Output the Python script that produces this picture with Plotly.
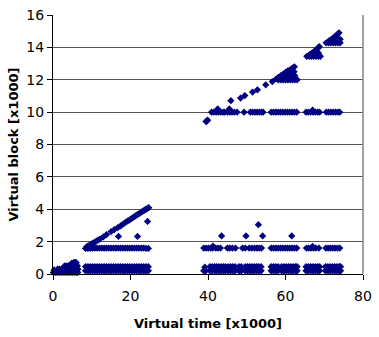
import plotly.graph_objects as go

# ---- data (x: virtual time [x1000], y: virtual block [x1000]) ----
ramp_x = [0.1, 0.6, 1.1, 1.6, 2.1, 2.6, 3.1, 3.6, 4.1, 4.6, 5.1, 5.6, 6.1, 6.4,
          0.3, 1.2, 1.7, 2.2, 2.7, 3.2, 3.7, 4.2, 4.7, 5.2, 5.7, 6.2, 6.4,
          3.0, 3.5, 4.0, 4.5, 5.0, 5.5, 6.0, 6.3,
          4.8, 5.3, 5.7, 6.0]
ramp_y = [0.1, 0.1, 0.1, 0.1, 0.1, 0.1, 0.1, 0.1, 0.1, 0.1, 0.1, 0.1, 0.1, 0.1,
          0.25, 0.3, 0.3, 0.3, 0.3, 0.3, 0.3, 0.3, 0.3, 0.3, 0.3, 0.3, 0.3,
          0.5, 0.5, 0.5, 0.5, 0.5, 0.5, 0.5, 0.5,
          0.66, 0.7, 0.72, 0.7]

low_left_x = [8.4, 9.0, 9.6, 10.2, 10.8, 11.4, 12.0, 12.6, 13.2, 13.8, 14.4, 15.0, 15.6, 16.2,
              16.8, 17.4, 18.0, 18.6, 19.2, 19.8, 20.4, 21.0, 21.6, 22.2, 22.8, 23.4, 24.0, 24.6,
              8.4, 9.0, 9.6, 10.2, 10.8, 11.4, 12.0, 12.6, 13.2, 13.8, 14.4, 15.0, 15.6, 16.2,
              16.8, 17.4, 18.0, 18.6, 19.2, 19.8, 20.4, 21.0, 21.6, 22.2, 22.8, 23.4, 24.0, 24.6]
low_left_y = [0.2, 0.2, 0.2, 0.2, 0.2, 0.2, 0.2, 0.2, 0.2, 0.2, 0.2, 0.2, 0.2, 0.2,
              0.2, 0.2, 0.2, 0.2, 0.2, 0.2, 0.2, 0.2, 0.2, 0.2, 0.2, 0.2, 0.2, 0.2,
              0.45, 0.45, 0.45, 0.45, 0.45, 0.45, 0.45, 0.45, 0.45, 0.45, 0.45, 0.45, 0.45, 0.45,
              0.45, 0.45, 0.45, 0.45, 0.45, 0.45, 0.45, 0.45, 0.45, 0.45, 0.45, 0.45, 0.45, 0.45]

mid_left_x = [8.4, 9.0, 9.6, 10.2, 10.8, 11.4, 12.0, 12.6, 13.2, 13.8, 14.4, 15.0, 15.6, 16.2,
              16.8, 17.4, 18.0, 18.6, 19.2, 19.8, 20.4, 21.0, 21.6, 22.2, 22.8, 23.4, 24.0, 24.6]
mid_left_y = [1.58, 1.58, 1.58, 1.6, 1.6, 1.6, 1.6, 1.6, 1.6, 1.6, 1.6, 1.6, 1.6, 1.6,
              1.6, 1.6, 1.6, 1.6, 1.6, 1.6, 1.6, 1.6, 1.6, 1.6, 1.6, 1.6, 1.58, 1.58]

diag_left_x = [8.7, 9.1, 9.5, 9.9, 10.3, 10.7, 11.1, 11.6, 12.1, 13.0, 13.8, 15.0,
               15.8, 16.7, 17.5, 18.2, 18.8, 19.3, 19.8, 20.3, 20.8, 21.3, 21.8,
               22.3, 22.8, 23.2, 23.6, 24.0, 24.4, 24.7,
               16.9, 21.8, 24.4]
diag_left_y = [1.68, 1.73, 1.78, 1.84, 1.9, 1.96, 2.02, 2.09, 2.16, 2.3, 2.43, 2.62,
               2.74, 2.86, 2.98, 3.1, 3.2, 3.28, 3.35, 3.43, 3.51, 3.59, 3.67,
               3.75, 3.82, 3.88, 3.95, 4.0, 4.06, 4.1,
               2.32, 2.32, 3.25]

low_right_x = [38.9, 39.4, 39.2,
               40.5, 41.1, 41.7, 42.2, 42.8, 43.4, 44.0, 44.5, 45.2, 45.8, 46.4, 47.0,
               48.0, 48.6, 49.6, 50.2, 50.8, 51.3, 51.9, 52.5, 53.1, 53.7,
               56.3, 56.9, 57.5, 58.1, 59.0, 59.6, 60.2, 60.8, 61.4, 62.0, 62.6, 63.0,
               65.3, 65.9, 66.5, 67.1, 67.7, 68.3, 68.8,
               70.3, 70.9, 71.5, 72.1, 72.7, 73.3, 73.9, 74.2,
               40.5, 41.1, 41.7, 42.2, 42.8, 43.4, 44.0, 44.5, 45.2, 45.8, 46.4, 47.0,
               48.0, 48.6, 49.6, 50.2, 50.8, 51.3, 51.9, 52.5, 53.1, 53.7,
               56.3, 56.9, 57.5, 58.1, 59.0, 59.6, 60.2, 60.8, 61.4, 62.0, 62.6, 63.0,
               65.3, 65.9, 66.5, 67.1, 67.7, 68.3, 68.8,
               70.3, 70.9, 71.5, 72.1, 72.7, 73.3, 73.9, 74.2]
low_right_y = [0.2, 0.2, 0.42,
               0.2, 0.2, 0.2, 0.2, 0.2, 0.2, 0.2, 0.2, 0.2, 0.2, 0.2, 0.2,
               0.2, 0.2, 0.2, 0.2, 0.2, 0.2, 0.2, 0.2, 0.2, 0.2,
               0.2, 0.2, 0.2, 0.2, 0.2, 0.2, 0.2, 0.2, 0.2, 0.2, 0.2, 0.2,
               0.2, 0.2, 0.2, 0.2, 0.2, 0.2, 0.2,
               0.2, 0.2, 0.2, 0.2, 0.2, 0.2, 0.2, 0.2,
               0.45, 0.45, 0.45, 0.45, 0.45, 0.45, 0.45, 0.45, 0.45, 0.45, 0.45, 0.45,
               0.45, 0.45, 0.45, 0.45, 0.45, 0.45, 0.45, 0.45, 0.45, 0.45,
               0.45, 0.45, 0.45, 0.45, 0.45, 0.45, 0.45, 0.45, 0.45, 0.45, 0.45, 0.45,
               0.45, 0.45, 0.45, 0.45, 0.45, 0.45, 0.45,
               0.45, 0.45, 0.45, 0.45, 0.45, 0.45, 0.45, 0.45]

mid_right_x = [38.9, 39.5, 40.1, 40.7, 41.2, 42.0, 42.6, 43.2, 45.0, 45.6, 46.3, 47.1,
               48.9, 49.6, 50.6, 51.3, 52.0, 52.6, 53.2, 53.8,
               56.3, 56.9, 57.5, 58.1, 58.7, 59.3, 59.9, 60.5, 61.1, 61.7, 62.3, 62.9,
               65.4, 66.0, 66.6, 67.2, 67.8, 68.6,
               70.4, 71.0, 71.6, 72.2, 72.8, 73.4, 74.0,
               41.3, 67.0,
               43.5, 49.8, 54.1, 53.0, 61.6]
mid_right_y = [1.6, 1.6, 1.6, 1.6, 1.6, 1.6, 1.6, 1.6, 1.6, 1.6, 1.6, 1.6,
               1.6, 1.6, 1.6, 1.6, 1.6, 1.6, 1.6, 1.6,
               1.6, 1.6, 1.6, 1.6, 1.6, 1.6, 1.6, 1.6, 1.6, 1.6, 1.6, 1.6,
               1.6, 1.6, 1.6, 1.6, 1.6, 1.6,
               1.6, 1.6, 1.6, 1.6, 1.6, 1.6, 1.6,
               1.72, 1.7,
               2.35, 2.35, 2.35, 3.05, 2.35]

band10_x = [40.9, 41.5, 42.1, 42.7, 43.3, 43.9, 44.3, 45.0, 45.6, 46.2, 46.8, 47.5,
            49.3, 50.9, 51.5, 52.1, 52.7, 53.3, 53.9, 54.2,
            56.3, 56.9, 57.5, 58.1, 58.7, 59.3, 59.9, 60.5, 61.1, 61.7, 62.3, 62.9,
            65.3, 65.9, 66.5, 67.1, 67.7, 68.3, 68.8,
            70.5, 71.1, 71.7, 72.3, 72.9, 73.5, 74.0,
            42.5, 45.5, 67.0]
band10_y = [10.0, 10.0, 10.0, 10.0, 10.0, 10.0, 10.0, 10.0, 10.0, 10.0, 10.0, 10.0,
            10.0, 10.0, 10.0, 10.0, 10.0, 10.0, 10.0, 10.0,
            10.0, 10.0, 10.0, 10.0, 10.0, 10.0, 10.0, 10.0, 10.0, 10.0, 10.0, 10.0,
            10.0, 10.0, 10.0, 10.0, 10.0, 10.0, 10.0,
            10.0, 10.0, 10.0, 10.0, 10.0, 10.0, 10.0,
            10.2, 10.2, 10.12]

diag_up_x = [39.5, 39.7, 39.9,
             45.9, 48.4, 49.5, 51.5, 52.75, 54.9, 56.6, 57.6,
             58.2, 58.8, 59.4, 60.0, 60.6, 61.2, 61.8, 62.3,
             58.2, 58.8, 59.4, 60.0, 60.6, 61.2, 61.8, 62.4, 63.0,
             60.0, 60.6, 61.2, 61.8, 62.4, 61.2, 61.8, 62.2,
             65.5, 66.1, 66.7, 67.3, 67.9, 68.5, 69.0,
             66.2, 66.8, 67.4, 67.9, 68.4, 68.7, 67.9, 68.5,
             70.5, 71.1, 71.7, 72.3, 72.9, 73.5, 74.1,
             71.2, 71.8, 72.4, 72.9, 73.4, 73.8, 72.9, 73.5, 74.1]
diag_up_y = [9.42, 9.45, 9.5,
             10.71, 10.87, 11.02, 11.24, 11.38, 11.69, 11.89, 12.05,
             12.15, 12.25, 12.35, 12.45, 12.55, 12.62, 12.72, 12.8,
             12.0, 12.0, 12.0, 12.0, 12.0, 12.0, 12.0, 12.0, 12.0,
             12.25, 12.25, 12.25, 12.25, 12.25, 12.45, 12.45, 12.5,
             13.45, 13.45, 13.45, 13.45, 13.45, 13.45, 13.45,
             13.55, 13.65, 13.75, 13.85, 13.95, 14.05, 13.65, 13.65,
             14.28, 14.28, 14.28, 14.28, 14.28, 14.28, 14.28,
             14.4, 14.5, 14.6, 14.7, 14.8, 14.9, 14.5, 14.5, 14.5]

x_ticks = [0, 20, 40, 60, 80]
y_ticks = [0, 2, 4, 6, 8, 10, 12, 14, 16]

all_x = ramp_x + low_left_x + mid_left_x + diag_left_x + low_right_x + mid_right_x + band10_x + diag_up_x
all_y = ramp_y + low_left_y + mid_left_y + diag_left_y + low_right_y + mid_right_y + band10_y + diag_up_y

NAVY = "#000080"
FONT = "DejaVu Sans, sans-serif"

fig = go.Figure()
fig.add_trace(go.Scatter(
    x=all_x, y=all_y, mode="markers", cliponaxis=False,
    marker=dict(symbol="diamond", size=5.6, color=NAVY, line=dict(width=0)),
    showlegend=False, hoverinfo="skip"))

fig.update_layout(
    width=379, height=337,
    margin=dict(l=53, r=7, t=13, b=63),
    paper_bgcolor="white", plot_bgcolor="white",
    font=dict(family=FONT, size=14, color="black"),
    xaxis=dict(range=[0, 80], tickvals=x_ticks, ticktext=[str(v) for v in x_ticks],
               showgrid=False, zeroline=False, showline=True, linecolor="black",
               linewidth=1, ticks="outside", ticklen=5, tickcolor="black",
               tickfont=dict(size=14), ticklabeloverflow="allow", ticklabelstandoff=4,
               title=dict(text="<b>Virtual time [x1000]</b>", font=dict(size=13), standoff=16)),
    yaxis=dict(range=[0, 16], tickvals=y_ticks, ticktext=[str(v) for v in y_ticks],
               showgrid=True, gridcolor="#555555", gridwidth=1, zeroline=False,
               showline=True, linecolor="black", linewidth=1,
               ticks="outside", ticklen=5, tickcolor="black", tickfont=dict(size=14),
               title=dict(text="<b>Virtual block [x1000]</b>", font=dict(size=13), standoff=4)),
    shapes=[dict(type="line", xref="x domain", yref="y domain", x0=1, x1=1, y0=0, y1=1,
                 line=dict(color="#808080", width=1.5))],
)

fig.write_html("out.html")
